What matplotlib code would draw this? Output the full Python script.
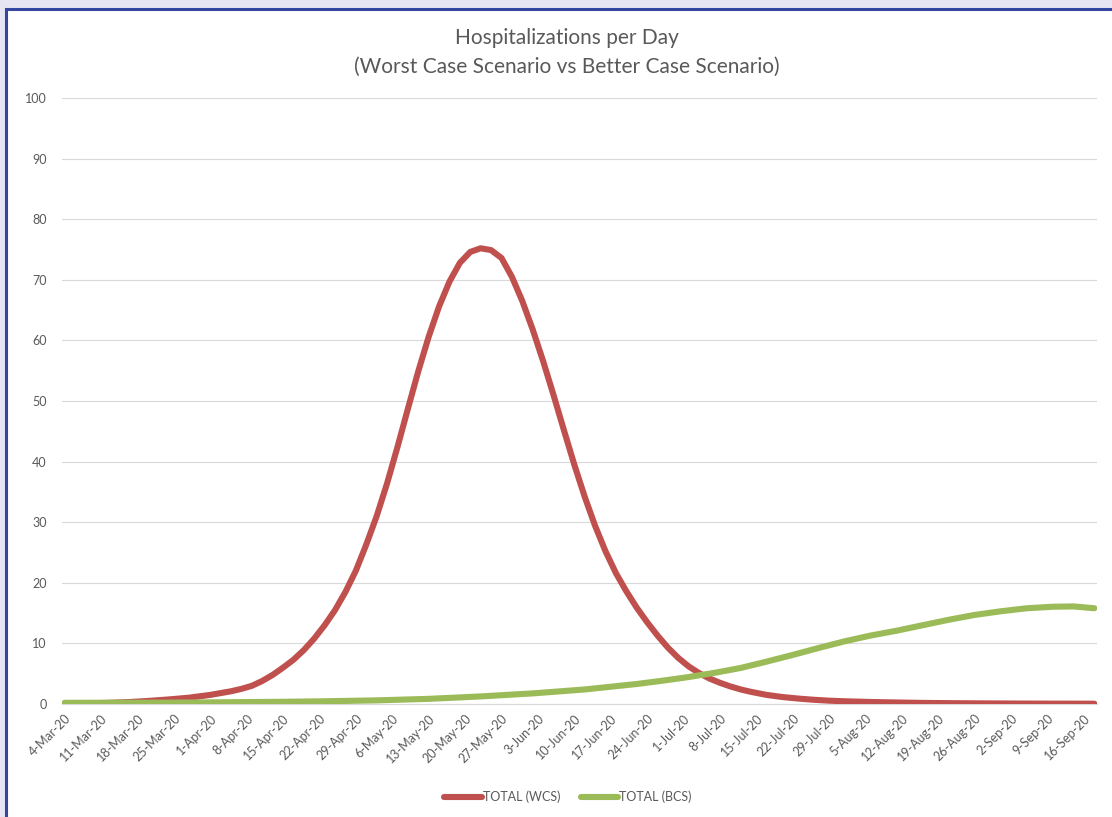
import matplotlib
matplotlib.use("Agg")
import matplotlib.pyplot as plt
from matplotlib.patches import Rectangle
import datetime as dt

# ---- data ----
start_date = dt.date(2020, 3, 4)
wcs_days = [0, 4, 8, 12, 16, 20, 24, 28, 30, 32, 34, 36, 38, 40, 42, 44, 46, 48, 50, 52,
            54, 56, 58, 60, 62, 64, 66, 68, 70, 72, 74, 76, 78, 80, 82, 84, 86, 88, 90,
            92, 94, 96, 98, 100, 102, 104, 106, 108, 110, 112, 114, 116, 118, 120, 122,
            124, 126, 128, 130, 132, 135, 138, 141, 144, 147, 150, 155, 160, 165, 170,
            175, 180, 185, 190, 198]
wcs = [0.05, 0.1, 0.18, 0.3, 0.5, 0.75, 1.05, 1.5, 1.8, 2.1, 2.5, 3.0, 3.8, 4.8, 6.0,
       7.3, 8.9, 10.8, 13.0, 15.5, 18.5, 22.0, 26.3, 31.0, 36.4, 42.4, 48.7, 54.9, 60.6,
       65.6, 69.7, 72.8, 74.6, 75.2, 74.9, 73.6, 70.5, 66.5, 61.8, 56.6, 51.0, 45.2,
       39.5, 34.2, 29.4, 25.2, 21.6, 18.6, 15.9, 13.5, 11.3, 9.3, 7.6, 6.2, 5.1, 4.2,
       3.5, 2.9, 2.4, 2.0, 1.5, 1.15, 0.9, 0.7, 0.55, 0.45, 0.33, 0.25, 0.18, 0.14,
       0.11, 0.09, 0.07, 0.06, 0.05]
bcs_days = [0, 20, 40, 50, 60, 70, 80, 90, 100, 105, 110, 115, 120, 125, 130, 135, 140,
            145, 150, 155, 160, 165, 170, 175, 180, 185, 190, 194, 198]
bcs = [0.2, 0.22, 0.35, 0.45, 0.6, 0.85, 1.25, 1.75, 2.4, 2.85, 3.3, 3.85, 4.45, 5.15,
       5.95, 7.0, 8.1, 9.25, 10.35, 11.3, 12.1, 13.0, 13.9, 14.7, 15.3, 15.8, 16.05,
       16.1, 15.8]
tick_days = list(range(0, 197, 7))
tick_labels = [f"{(start_date + dt.timedelta(days=d)).day}-{(start_date + dt.timedelta(days=d)).strftime('%b')}-20"
               for d in tick_days]
yticks = list(range(0, 101, 10))

series_names = ["TOTAL (WCS)", "TOTAL (BCS)"]
colors = ["#C0504D", "#9BBB59"]

# ---- figure ----
plt.rcParams['font.family'] = ['Lato', 'DejaVu Sans']
W, H = 1112, 817
fig = plt.figure(figsize=(W / 100, H / 100), dpi=100)
fig.patch.set_facecolor("#E7E5F3")
# white chart frame with dark blue border (left and top edges visible)
fig.patches.append(Rectangle((6 / W, -0.05), (W + 40) / W, (H - 9) / H + 0.05,
                             transform=fig.transFigure, facecolor="white",
                             edgecolor="#3446A0", linewidth=2.2, zorder=-5))

ax = fig.add_axes([62 / W, 1 - 704 / H, (1097 - 62) / W, (704 - 98) / H])
ax.set_zorder(2)
ax.set_facecolor("white")
ax.plot(wcs_days, wcs, color=colors[0], lw=4.4, solid_capstyle="round",
        solid_joinstyle="round", label=series_names[0], zorder=3)
ax.plot(bcs_days, bcs, color=colors[1], lw=4.4, solid_capstyle="round",
        solid_joinstyle="round", label=series_names[1], zorder=3)

ax.set_xlim(-0.5, 198.5)
ax.set_ylim(0, 100)
ax.set_yticks(yticks)
ax.set_yticklabels([str(v) for v in yticks], fontsize=9, color="#595959")
ax.set_xticks(tick_days)
ax.set_xticklabels(tick_labels, rotation=45, ha="right", va="top", rotation_mode="anchor",
                   fontsize=9, color="#595959")
ax.tick_params(axis="both", length=0)
ax.tick_params(axis="y", pad=11)
ax.tick_params(axis="x", pad=6)
ax.grid(axis="y", color="#D9D9D9", lw=0.8)
ax.set_axisbelow(True)
for s in ["top", "right", "left"]:
    ax.spines[s].set_visible(False)
ax.spines["bottom"].set_color("#D9D9D9")
ax.spines["bottom"].set_linewidth(0.8)

fig.text(567 / W, 1 - 38 / H, "Hospitalizations per Day", ha="center", va="center",
         fontsize=15, color="#595959")
fig.text(567 / W, 1 - 67 / H, "(Worst Case Scenario vs Better Case Scenario)", ha="center",
         va="center", fontsize=15, color="#595959")

leg = fig.legend(loc="center", bbox_to_anchor=(568 / W, 1 - 797 / H), ncol=2, frameon=False,
                 fontsize=9, handlelength=3.0, handletextpad=0.1, columnspacing=1.6)
for t in leg.get_texts():
    t.set_color("#595959")

fig.savefig("out.png", dpi=100, facecolor=fig.get_facecolor())
